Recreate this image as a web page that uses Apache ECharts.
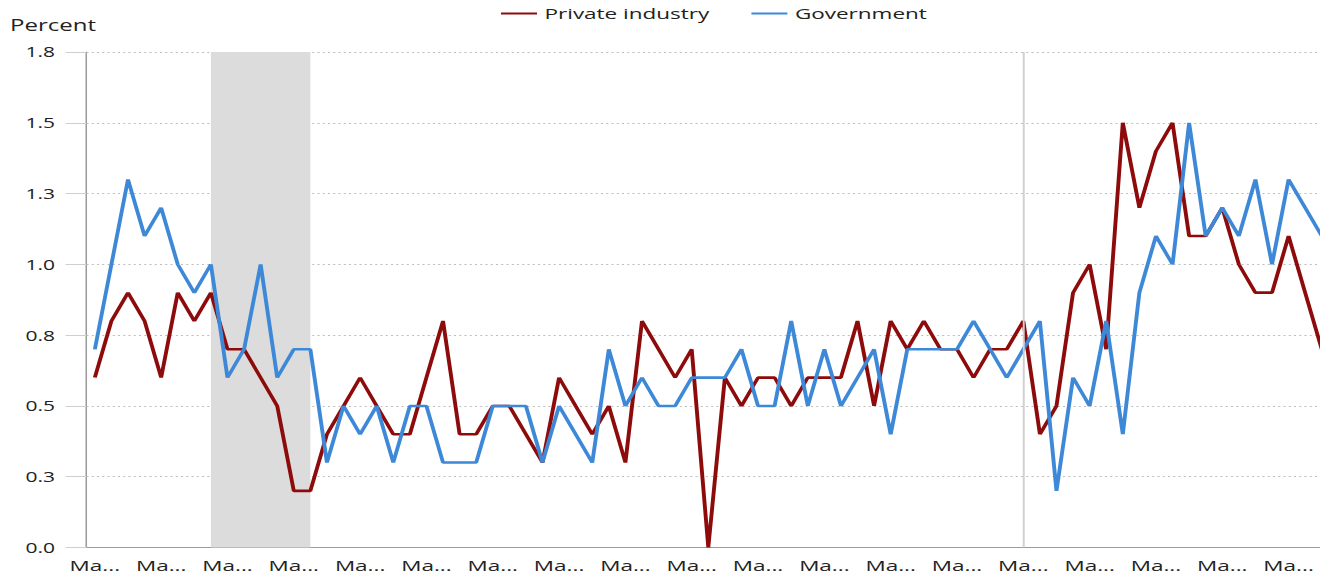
<!DOCTYPE html>
<html>
<head>
<meta charset="utf-8">
<script src="https://cdn.jsdelivr.net/npm/echarts@6/dist/echarts.min.js"></script>
<style>
  html, body { margin: 0; padding: 0; background: #fff; overflow: hidden; }
  #wrap { width: 1320px; height: 580px; overflow: hidden; position: relative; }
  #chart { width: 900px; height: 580px; transform: scaleX(1.5); transform-origin: 0 0; }
</style>
</head>
<body>
<div id="wrap"><div id="chart"></div></div>
<script>
// Quarterly categories, March 2006 through September 2024
const months = ['Mar', 'Jun', 'Sep', 'Dec'];
const categories = [];
for (let y = 2006; y <= 2024; y++) {
  for (const m of months) {
    if (y === 2024 && (m === 'Dec')) continue;
    categories.push(m + ' ' + y);
  }
}

const privateIndustry = [
  0.6, 0.8, 0.9, 0.8, 0.6, 0.9, 0.8, 0.9, 0.7, 0.7,
  0.6, 0.5, 0.2, 0.2, 0.4, 0.5, 0.6, 0.5, 0.4, 0.4,
  0.6, 0.8, 0.4, 0.4, 0.5, 0.5, 0.4, 0.3, 0.6, 0.5,
  0.4, 0.5, 0.3, 0.8, 0.7, 0.6, 0.7, 0.0, 0.6, 0.5,
  0.6, 0.6, 0.5, 0.6, 0.6, 0.6, 0.8, 0.5, 0.8, 0.7,
  0.8, 0.7, 0.7, 0.6, 0.7, 0.7, 0.8, 0.4, 0.5, 0.9,
  1.0, 0.7, 1.5, 1.2, 1.4, 1.5, 1.1, 1.1, 1.2, 1.0,
  0.9, 0.9, 1.1, 0.9, 0.7
];

const government = [
  0.7, 1.0, 1.3, 1.1, 1.2, 1.0, 0.9, 1.0, 0.6, 0.7,
  1.0, 0.6, 0.7, 0.7, 0.3, 0.5, 0.4, 0.5, 0.3, 0.5,
  0.5, 0.3, 0.3, 0.3, 0.5, 0.5, 0.5, 0.3, 0.5, 0.4,
  0.3, 0.7, 0.5, 0.6, 0.5, 0.5, 0.6, 0.6, 0.6, 0.7,
  0.5, 0.5, 0.8, 0.5, 0.7, 0.5, 0.6, 0.7, 0.4, 0.7,
  0.7, 0.7, 0.7, 0.8, 0.7, 0.6, 0.7, 0.8, 0.2, 0.6,
  0.5, 0.8, 0.4, 0.9, 1.1, 1.0, 1.5, 1.1, 1.2, 1.1,
  1.3, 1.0, 1.3, 1.2, 1.1
];

const recessionBand = ['Dec 2007', 'Jun 2009'];
const recessionLine = 'Mar 2020';

const yMin = 0, yMax = 1.75, yInterval = 0.25;

const FONT = 'Open Sans';
const chart = echarts.init(document.getElementById('chart'), null, { renderer: 'svg' });

chart.setOption({
  animation: false,
  backgroundColor: '#ffffff',
  title: {
    text: 'Percent',
    left: 6.7,
    top: 17,
    padding: 0,
    textStyle: { fontFamily: FONT, fontSize: 16, fontWeight: 'normal', color: '#222' }
  },
  legend: {
    data: ['Private industry', 'Government'],
    left: 329,
    top: 1,
    icon: 'rect',
    itemWidth: 24,
    itemHeight: 2,
    itemGap: 28,
    textStyle: { fontFamily: FONT, fontSize: 15, color: '#222' }
  },
  grid: {
    left: 57.7,
    top: 52,
    width: 829,
    height: 495.5,
    containLabel: false
  },
  xAxis: {
    type: 'category',
    data: categories,
    boundaryGap: true,
    axisLine: { show: true, lineStyle: { color: '#9a9a9a', width: 1 } },
    axisTick: { show: false },
    axisLabel: {
      interval: 3,
      margin: 11,
      width: 36,
      overflow: 'truncate',
      ellipsis: '...',
      fontFamily: FONT,
      fontSize: 15,
      color: '#222'
    },
    splitLine: { show: false }
  },
  yAxis: {
    type: 'value',
    min: yMin,
    max: yMax,
    interval: yInterval,
    axisLine: { show: true, lineStyle: { color: '#9a9a9a', width: 1 } },
    axisTick: { show: true, length: 14, lineStyle: { color: '#cfcfcf', width: 1 } },
    axisLabel: {
      margin: 21,
      fontFamily: FONT,
      fontSize: 14,
      color: '#222',
      formatter: v => v.toFixed(1)
    },
    splitLine: { show: true, lineStyle: { color: '#bcbcbc', width: 1, type: [1.3, 2.2] } }
  },
  series: [
    {
      name: 'Private industry',
      type: 'line',
      data: privateIndustry,
      symbol: 'none',
      z: 3,
      lineStyle: { color: '#8e0b0b', width: 2.6 },
      itemStyle: { color: '#8e0b0b' },
      markArea: {
        silent: true,
        itemStyle: { color: '#dcdcdc' },
        data: [[{ xAxis: recessionBand[0] }, { xAxis: recessionBand[1] }]]
      }
    },
    {
      name: 'Government',
      type: 'line',
      data: government,
      symbol: 'none',
      z: 4,
      lineStyle: { color: '#3d89d8', width: 2.6 },
      itemStyle: { color: '#3d89d8' },
      markLine: {
        silent: true,
        symbol: 'none',
        label: { show: false },
        lineStyle: { color: '#d0d0d0', width: 1.3, type: 'solid' },
        data: [{ xAxis: recessionLine }]
      }
    }
  ]
});
</script>
</body>
</html>
